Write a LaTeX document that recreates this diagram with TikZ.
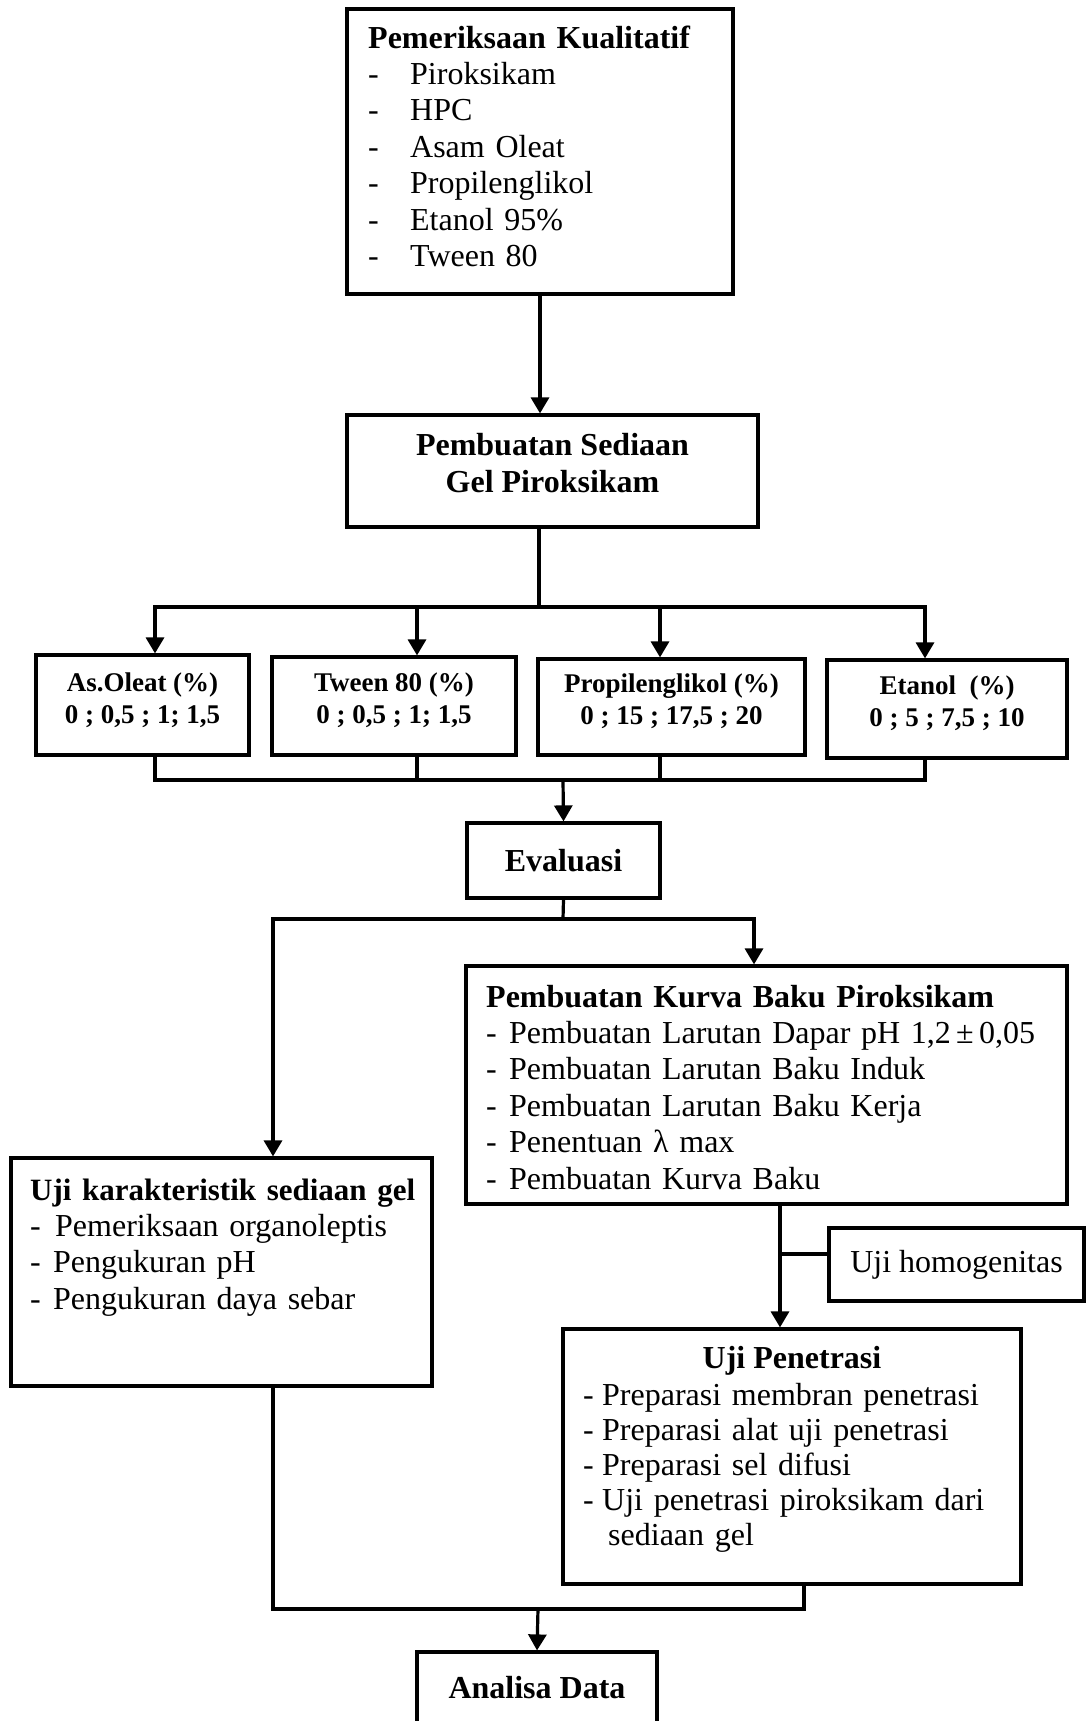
\documentclass[tikz,border=0pt]{standalone}
\usepackage{fontspec}
\setmainfont{Liberation Serif}
\usetikzlibrary{arrows.meta}
\newcommand{\hurufbesar}{\fontsize{32}{36.4}\selectfont}
\newcommand{\hurufkecil}{\fontsize{27}{32}\selectfont}
\newcommand{\strip}[1]{\makebox[#1][l]{-}}

\begin{document}
\begin{tikzpicture}[x=1pt,y=-1pt]
\tikzstyle{every node}+=[inner sep=0pt]
\tikzstyle{kotak}=[draw, line width=3.2pt]
\tikzstyle{teks}=[anchor=base west, align=left, font=\hurufbesar]
\tikzstyle{garis}=[line width=3.2pt, line cap=rect]
\tikzstyle{panah}=[garis, -{Triangle[length=16pt,width=18pt]}]
\useasboundingbox (0,0) rectangle (1087,1721);
\node[kotak, minimum width=386pt, minimum height=285pt] (periksa) at (540,151.5) {};
\node[teks, text width=350pt] (periksaT) at (368,48) {\textbf{Pemeriksaan Kualitatif}\\
\strip{42pt}Piroksikam\\
\strip{42pt}HPC\\
\strip{42pt}Asam Oleat\\
\strip{42pt}Propilenglikol\\
\strip{42pt}Etanol 95\%\\
\strip{42pt}Tween 80};
\node[kotak, minimum width=411pt, minimum height=112pt] (sediaan) at (552.5,471) {};
\node[align=center, font=\hurufbesar\bfseries] (sediaanT) at (552.5,463) {Pembuatan Sediaan\\Gel Piroksikam};
\draw[panah] (periksa.south) -- (periksa.south |- sediaan.north);
\node[kotak, minimum width=213pt, minimum height=100pt] (oleat) at (142.5,705) {};
\node[align=center, font=\hurufkecil\bfseries] (oleatT) at (142.5,700) {As.Oleat (\%)\\0 ; 0,5 ; 1; 1,5};
\node[kotak, minimum width=244pt, minimum height=98pt] (tween) at (394,706) {};
\node[align=center, font=\hurufkecil\bfseries] (tweenT) at (394,700) {Tween 80 (\%)\\0 ; 0,5 ; 1; 1,5};
\node[kotak, minimum width=267pt, minimum height=96pt] (propil) at (671.5,707) {};
\node[align=center, font=\hurufkecil\bfseries] (propilT) at (671.5,701) {Propilenglikol (\%)\\0 ; 15 ; 17,5 ; 20};
\node[kotak, minimum width=240pt, minimum height=98pt] (etanol) at (947,709) {};
\node[align=center, font=\hurufkecil\bfseries] (etanolT) at (947,703) {Etanol\ \ (\%)\\0 ; 5 ; 7,5 ; 10};
\coordinate (atas) at (539,607);
\coordinate (a1) at (155,607);
\coordinate (a2) at (417,607);
\coordinate (a3) at (660,607);
\coordinate (a4) at (925,607);
\draw[garis] (sediaan.south -| atas) -- (atas);
\draw[garis] (a1) -- (a4);
\draw[panah] (a1) -- (a1 |- oleat.north);
\draw[panah] (a2) -- (a2 |- tween.north);
\draw[panah] (a3) -- (a3 |- propil.north);
\draw[panah] (a4) -- (a4 |- etanol.north);
\node[kotak, minimum width=193pt, minimum height=75pt, font=\hurufbesar\bfseries] (evaluasi) at (563.5,860.5) {Evaluasi};
\coordinate (bawah) at (563,780);
\coordinate (b1) at (155,780);
\coordinate (b2) at (417,780);
\coordinate (b3) at (660,780);
\coordinate (b4) at (925,780);
\draw[garis] (oleat.south -| b1) -- (b1) -- (b4) -- (etanol.south -| b4);
\draw[garis] (tween.south -| b2) -- (b2);
\draw[garis] (propil.south -| b3) -- (b3);
\draw[panah] (bawah) -- (evaluasi.north);
\node[kotak, minimum width=601pt, minimum height=238pt] (kurva) at (766.5,1085) {};
\node[teks, text width=570pt] (kurvaT) at (486,1007) {\textbf{Pembuatan Kurva Baku Piroksikam}\\
\strip{23pt}Pembuatan Larutan Dapar pH 1,2\,±\,0,05\\
\strip{23pt}Pembuatan Larutan Baku Induk\\
\strip{23pt}Pembuatan Larutan Baku Kerja\\
\strip{23pt}Penentuan λ max\\
\strip{23pt}Pembuatan Kurva Baku};
\node[kotak, minimum width=421pt, minimum height=228pt] (karakter) at (221.5,1272) {};
\node[teks, text width=400pt] (karakterT) at (30,1200) {\fontsize{31}{36.4}\selectfont\textbf{Uji karakteristik sediaan gel}\\
\hurufbesar\strip{25pt}Pemeriksaan organoleptis\\
\strip{23pt}Pengukuran pH\\
\strip{23pt}Pengukuran daya sebar};
\coordinate (cabang) at (563,919);
\coordinate (kiri) at (273,919);
\coordinate (kanan) at (754,919);
\draw[garis] (evaluasi.south) -- (cabang);
\draw[garis] (kiri) -- (kanan);
\draw[panah] (kanan) -- (kanan |- kurva.north);
\draw[panah] (kiri) -- (kiri |- karakter.north);
\node[kotak, minimum width=255pt, minimum height=73pt, font=\hurufbesar] (homogen) at (956.5,1264.5) {Uji homogenitas};
\node[kotak, minimum width=458pt, minimum height=255pt] (penetrasi) at (792,1456.5) {};
\node[anchor=base, font=\hurufbesar\bfseries] (penetrasiJ) at (792,1368) {Uji Penetrasi};
\node[teks, text width=430pt, font=\fontsize{32}{35.2}\selectfont] (penetrasiT) at (583,1405) {\strip{19pt}Preparasi membran penetrasi\\
\strip{19pt}Preparasi alat uji penetrasi\\
\strip{19pt}Preparasi sel difusi\\
\strip{19pt}Uji penetrasi piroksikam dari\\
\hspace*{25pt}sediaan gel};
\coordinate (tengah) at (780,1254);
\draw[panah] (kurva.south -| tengah) -- (tengah |- penetrasi.north);
\draw[garis] (tengah) -- (tengah -| homogen.west);
\node[kotak, minimum width=240pt, minimum height=72pt, font=\hurufbesar\bfseries] (analisa) at (537,1688) {Analisa Data};
\coordinate (c1) at (273,1609);
\coordinate (c2) at (804,1609);
\coordinate (c3) at (538,1609);
\draw[garis] (karakter.south -| c1) -- (c1) -- (c2) -- (penetrasi.south -| c2);
\draw[panah] (c3) -- (analisa.north);
\end{tikzpicture}
\end{document}
